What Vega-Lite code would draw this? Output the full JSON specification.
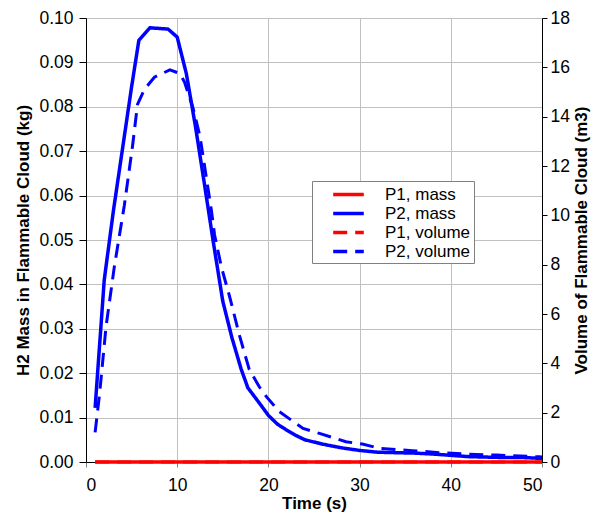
{
  "$schema": "https://vega.github.io/schema/vega-lite/v6.json",
  "width": 456,
  "height": 444,
  "autosize": {"type": "none"},
  "padding": {"left": 86, "top": 18, "right": 51, "bottom": 52},
  "background": "white",
  "config": {
    "font": "Liberation Sans",
    "view": {"stroke": null},
    "axis": {
      "domainColor": "#000000",
      "domainWidth": 1,
      "tickColor": "#000000",
      "labelColor": "#000000",
      "titleColor": "#000000",
      "gridColor": "#c0c0c0",
      "gridWidth": 1,
      "labelFontSize": 17.5,
      "titleFontSize": 17,
      "titleFontWeight": "bold",
      "labelFont": "Liberation Sans",
      "titleFont": "Liberation Sans"
    },
    "legend": {
      "orient": "none",
      "legendX": 226,
      "legendY": 163,
      "strokeColor": "#808080",
      "fillColor": "white",
      "padding": 3,
      "rowPadding": 0,
      "symbolType": "M-1.8,0H1.8",
      "symbolSize": 289,
      "symbolStrokeWidth": 3.5,
      "symbolOffset": 23,
      "labelOffset": 26,
      "labelFontSize": 17,
      "labelFont": "Liberation Sans",
      "labelColor": "#000000"
    }
  },
  "datasets": {
    "mass": [
      {"t": 1, "series": "P1, mass", "value": 0},
      {"t": 10, "series": "P1, mass", "value": 0},
      {"t": 20, "series": "P1, mass", "value": 0},
      {"t": 30, "series": "P1, mass", "value": 0},
      {"t": 40, "series": "P1, mass", "value": 0},
      {"t": 50, "series": "P1, mass", "value": 0},
      {"t": 1, "series": "P2, mass", "value": 0.0122},
      {"t": 2, "series": "P2, mass", "value": 0.041},
      {"t": 3, "series": "P2, mass", "value": 0.0565},
      {"t": 4, "series": "P2, mass", "value": 0.0705},
      {"t": 5, "series": "P2, mass", "value": 0.0845},
      {"t": 5.8, "series": "P2, mass", "value": 0.095},
      {"t": 7, "series": "P2, mass", "value": 0.0978},
      {"t": 9, "series": "P2, mass", "value": 0.0975},
      {"t": 10, "series": "P2, mass", "value": 0.0957},
      {"t": 11, "series": "P2, mass", "value": 0.0875},
      {"t": 12, "series": "P2, mass", "value": 0.0756},
      {"t": 13, "series": "P2, mass", "value": 0.0624},
      {"t": 14, "series": "P2, mass", "value": 0.049},
      {"t": 15, "series": "P2, mass", "value": 0.0362},
      {"t": 16, "series": "P2, mass", "value": 0.028},
      {"t": 17, "series": "P2, mass", "value": 0.021},
      {"t": 17.75, "series": "P2, mass", "value": 0.0167},
      {"t": 19, "series": "P2, mass", "value": 0.0133},
      {"t": 20, "series": "P2, mass", "value": 0.0105},
      {"t": 21, "series": "P2, mass", "value": 0.0085},
      {"t": 22, "series": "P2, mass", "value": 0.0072},
      {"t": 23, "series": "P2, mass", "value": 0.006},
      {"t": 24, "series": "P2, mass", "value": 0.005},
      {"t": 25, "series": "P2, mass", "value": 0.0045},
      {"t": 26, "series": "P2, mass", "value": 0.004},
      {"t": 28, "series": "P2, mass", "value": 0.0032},
      {"t": 30, "series": "P2, mass", "value": 0.0026},
      {"t": 32, "series": "P2, mass", "value": 0.0022},
      {"t": 34, "series": "P2, mass", "value": 0.0021},
      {"t": 36, "series": "P2, mass", "value": 0.002},
      {"t": 38, "series": "P2, mass", "value": 0.0018},
      {"t": 40, "series": "P2, mass", "value": 0.0015},
      {"t": 42, "series": "P2, mass", "value": 0.0012},
      {"t": 44, "series": "P2, mass", "value": 0.0011},
      {"t": 46, "series": "P2, mass", "value": 0.001},
      {"t": 48, "series": "P2, mass", "value": 0.001},
      {"t": 50, "series": "P2, mass", "value": 0.0008}
    ],
    "volume": [
      {"t": 1, "series": "P1, volume", "value": 0},
      {"t": 10, "series": "P1, volume", "value": 0},
      {"t": 20, "series": "P1, volume", "value": 0},
      {"t": 30, "series": "P1, volume", "value": 0},
      {"t": 40, "series": "P1, volume", "value": 0},
      {"t": 50, "series": "P1, volume", "value": 0},
      {"t": 1, "series": "P2, volume", "value": 1.2},
      {"t": 1.5, "series": "P2, volume", "value": 2.8},
      {"t": 2.2, "series": "P2, volume", "value": 5.5},
      {"t": 3.1, "series": "P2, volume", "value": 7.9},
      {"t": 4.2, "series": "P2, volume", "value": 10.4},
      {"t": 5.1, "series": "P2, volume", "value": 12.8},
      {"t": 5.65, "series": "P2, volume", "value": 14.5},
      {"t": 6.4, "series": "P2, volume", "value": 15.1},
      {"t": 7.5, "series": "P2, volume", "value": 15.6},
      {"t": 9.2, "series": "P2, volume", "value": 15.9},
      {"t": 10.3, "series": "P2, volume", "value": 15.75},
      {"t": 10.8, "series": "P2, volume", "value": 15.4},
      {"t": 11.7, "series": "P2, volume", "value": 14.4},
      {"t": 12.5, "series": "P2, volume", "value": 13.2},
      {"t": 13, "series": "P2, volume", "value": 12.0},
      {"t": 13.75, "series": "P2, volume", "value": 10.2},
      {"t": 14.1, "series": "P2, volume", "value": 9.2},
      {"t": 14.85, "series": "P2, volume", "value": 7.9},
      {"t": 15.75, "series": "P2, volume", "value": 6.7},
      {"t": 16.85, "series": "P2, volume", "value": 5.1},
      {"t": 17.9, "series": "P2, volume", "value": 3.75},
      {"t": 19, "series": "P2, volume", "value": 3.05},
      {"t": 19.8, "series": "P2, volume", "value": 2.64},
      {"t": 21.2, "series": "P2, volume", "value": 2.04},
      {"t": 23.8, "series": "P2, volume", "value": 1.36},
      {"t": 25.6, "series": "P2, volume", "value": 1.16},
      {"t": 28.5, "series": "P2, volume", "value": 0.82},
      {"t": 30.3, "series": "P2, volume", "value": 0.73},
      {"t": 32.2, "series": "P2, volume", "value": 0.55},
      {"t": 35.8, "series": "P2, volume", "value": 0.46},
      {"t": 38.7, "series": "P2, volume", "value": 0.38},
      {"t": 41.7, "series": "P2, volume", "value": 0.32},
      {"t": 45, "series": "P2, volume", "value": 0.28},
      {"t": 49.7, "series": "P2, volume", "value": 0.21},
      {"t": 50, "series": "P2, volume", "value": 0.2}
    ]
  },
  "layer": [
    {
      "data": {"name": "mass"},
      "mark": {"type": "line", "strokeWidth": 3.5},
      "encoding": {
        "x": {
          "field": "t",
          "type": "quantitative",
          "scale": {"domain": [0, 50], "nice": false},
          "axis": {"title": "Time (s)", "values": [0, 10, 20, 30, 40, 50], "grid": true, "tickSize": 5, "tickColor": "#808080", "labelPadding": 9, "titlePadding": 2, "format": "d"}
        },
        "y": {
          "field": "value",
          "type": "quantitative",
          "scale": {"domain": [0, 0.1], "nice": false},
          "axis": {"title": "H2 Mass in Flammable Cloud (kg)", "orient": "left", "values": [0, 0.01, 0.02, 0.03, 0.04, 0.05, 0.06, 0.07, 0.08, 0.09, 0.1], "format": ".2f", "grid": true, "tickSize": 7, "labelPadding": 6, "titlePadding": 6}
        },
        "color": {
          "field": "series",
          "type": "nominal",
          "scale": {"domain": ["P1, mass", "P2, mass", "P1, volume", "P2, volume"], "range": ["#ff0000", "#0000ff", "#ff0000", "#0000ff"]},
          "legend": {"title": null}
        },
        "strokeDash": {
          "field": "series",
          "type": "nominal",
          "scale": {"domain": ["P1, mass", "P2, mass", "P1, volume", "P2, volume"], "range": [[1, 0], [1, 0], [14, 8], [14, 8]]},
          "legend": {"title": null}
        }
      }
    },
    {
      "data": {"name": "volume"},
      "mark": {"type": "line", "strokeWidth": 3},
      "encoding": {
        "x": {
          "field": "t",
          "type": "quantitative",
          "scale": {"domain": [0, 50], "nice": false},
          "axis": {"title": "Time (s)", "values": [0, 10, 20, 30, 40, 50], "grid": true, "tickSize": 5, "tickColor": "#808080", "labelPadding": 9, "titlePadding": 2, "format": "d"}
        },
        "y": {
          "field": "value",
          "type": "quantitative",
          "scale": {"domain": [0, 18], "nice": false},
          "axis": {"title": "Volume of Flammable Cloud (m3)", "orient": "right", "values": [0, 2, 4, 6, 8, 10, 12, 14, 16, 18], "format": "d", "grid": false, "tickSize": 5, "labelPadding": 3, "titlePadding": 4, "titleAngle": 270, "titleBaseline": "top"}
        },
        "color": {
          "field": "series",
          "type": "nominal",
          "scale": {"domain": ["P1, mass", "P2, mass", "P1, volume", "P2, volume"], "range": ["#ff0000", "#0000ff", "#ff0000", "#0000ff"]},
          "legend": {"title": null}
        },
        "strokeDash": {
          "field": "series",
          "type": "nominal",
          "scale": {"domain": ["P1, mass", "P2, mass", "P1, volume", "P2, volume"], "range": [[1, 0], [1, 0], [14, 8], [14, 8]]},
          "legend": {"title": null}
        }
      }
    }
  ],
  "resolve": {"scale": {"y": "independent"}}
}
